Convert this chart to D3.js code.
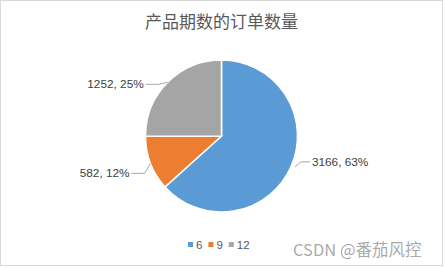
<!DOCTYPE html>
<html>
<head>
<meta charset="utf-8">
<script src="https://cdn.jsdelivr.net/npm/d3@7"></script>
<style>
  html, body { margin: 0; padding: 0; background: #fff; }
</style>
</head>
<body>
<svg id="chart" width="445" height="268"></svg>
<script>
// === data ===
const categories = ["6", "9", "12"];
const orderCounts = [3166, 582, 1252];
const percentLabels = ["63%", "12%", "25%"];
const chartTitle = "产品期数的订单数量";
const watermark = "CSDN @番茄风控";

const svg = d3.select("#chart");
const width = +svg.attr("width");
const height = +svg.attr("height");

// chart area border
svg.append("rect")
  .attr("x", 0.5).attr("y", 0.5)
  .attr("width", width - 3).attr("height", height - 3)
  .attr("fill", "#fff")
  .attr("stroke", "#d9d9d9");

const colorScale = d3.scaleOrdinal()
  .domain(categories)
  .range(["#5B9BD5", "#ED7D31", "#A5A5A5"]);

const cx = 221.5, cy = 136, radius = 76;

const pie = d3.pie().sort(null).value(d => d.value);
const pieData = pie(categories.map((c, i) => ({ cat: c, value: orderCounts[i], pct: percentLabels[i] })));

const arc = d3.arc().innerRadius(0).outerRadius(radius);
const edgeArc = d3.arc().innerRadius(radius).outerRadius(radius);

const pieGroup = svg.append("g").attr("transform", `translate(${cx}, ${cy})`);

pieGroup.selectAll(".slice")
  .data(pieData)
  .enter()
  .append("path")
  .attr("class", "slice")
  .attr("d", arc)
  .attr("fill", d => colorScale(d.data.cat))
  .attr("stroke", "#fff")
  .attr("stroke-width", 1.5);

// leader lines + labels (best-fit style nudges per slice)
const nudges = { "6": [10, -5], "9": [-6, 10], "12": [-9, 2] };

pieData.forEach(d => {
  const [ax, ay] = edgeArc.centroid(d);
  const right = ax > 0;
  const [nx, ny] = nudges[d.data.cat];
  const ex = ax + nx, ey = ay + ny;
  const lx = ex + (right ? 9 : -13);
  pieGroup.append("polyline")
    .attr("points", [[ax + (right ? 4 : 0), ay], [ex, ey], [lx, ey]].map(p => p.join(",")).join(" "))
    .attr("fill", "none")
    .attr("stroke", "#a6a6a6")
    .attr("stroke-width", 1);
  pieGroup.append("text")
    .attr("x", lx + (right ? 2 : -2))
    .attr("y", ey)
    .attr("dy", "0.35em")
    .attr("text-anchor", right ? "start" : "end")
    .attr("font-family", "'Liberation Sans', Arial, sans-serif")
    .attr("font-size", "11.8px")
    .attr("fill", "#404040")
    .text(`${d.data.value}, ${d.data.pct}`);
});

// === Titel ===
svg.append("text")
  .attr("x", cx)
  .attr("y", 28)
  .attr("text-anchor", "middle")
  .attr("font-family", "'Noto Sans CJK SC', sans-serif")
  .attr("font-size", "17px")
  .attr("fill", "#595959")
  .text(chartTitle);

// === legend ===
const legend = svg.append("g").attr("transform", "translate(188, 245)");
let lxPos = 0;
categories.forEach(c => {
  legend.append("rect")
    .attr("x", lxPos).attr("y", -3)
    .attr("width", 5).attr("height", 5)
    .attr("fill", colorScale(c));
  const t = legend.append("text")
    .attr("x", lxPos + 8)
    .attr("y", 0)
    .attr("dy", "0.35em")
    .attr("font-family", "'Liberation Sans', Arial, sans-serif")
    .attr("font-size", "11.5px")
    .attr("fill", "#595959")
    .text(c);
  lxPos += 8 + t.node().getComputedTextLength() + 6;
});

// watermark
svg.append("text")
  .attr("x", 293)
  .attr("y", 250)
  .attr("dy", "0.35em")
  .attr("font-family", "'Noto Sans CJK SC', sans-serif")
  .attr("font-size", "16.5px")
  .attr("fill", "#9a9a9a")
  .attr("fill-opacity", 0.85)
  .text(watermark);
</script>
</body>
</html>
